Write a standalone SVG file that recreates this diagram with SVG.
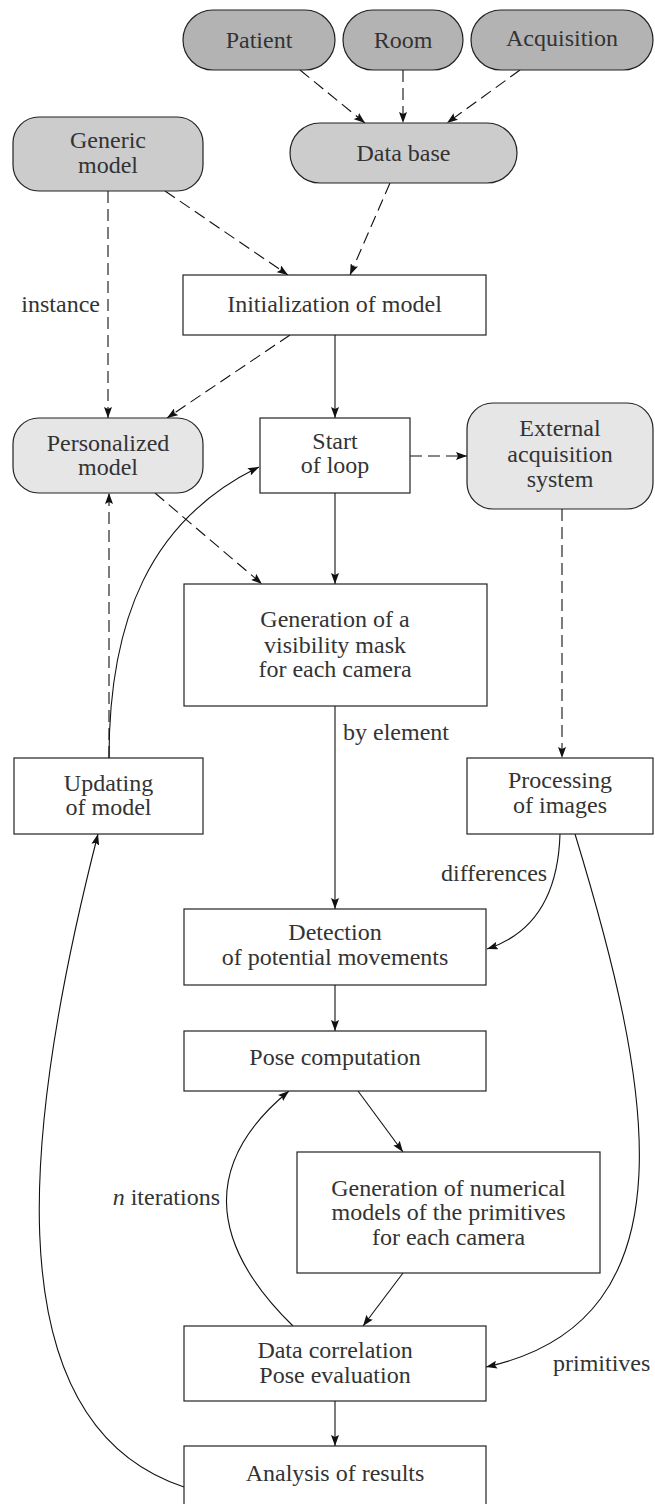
<svg xmlns="http://www.w3.org/2000/svg" width="655" height="1504" viewBox="0 0 655 1504">
<style>
  text { font-family: "Liberation Serif", "Times New Roman", serif; font-size: 24px; fill: #333; }
  .c { text-anchor: middle; }
  .box { fill: #fff; stroke: #222; stroke-width: 1.2; }
  .dark { fill: #b3b3b3; stroke: #222; stroke-width: 1.2; }
  .mid { fill: #cccccc; stroke: #222; stroke-width: 1.2; }
  .light { fill: #e6e6e6; stroke: #222; stroke-width: 1.2; }
  .e { fill: none; stroke: #111; stroke-width: 1.1; marker-end: url(#ah); }
  .d { stroke-dasharray: 12 6; }
</style>
<defs>
  <marker id="ah" markerUnits="userSpaceOnUse" markerWidth="12" markerHeight="8" refX="11" refY="4" orient="auto">
    <path d="M0,0 L11,4 L0,8 L2,4 z" fill="#111"/>
  </marker>
</defs>

<g id="connectors">
  <path class="e d" d="M300,70 L365,123"/>
  <path class="e d" d="M403,70 L403,123"/>
  <path class="e d" d="M520,70 L447,123"/>
  <path class="e d" d="M165,191 L288,275"/>
  <path class="e d" d="M390,183 L350,275"/>
  <path class="e d" d="M108,191 L108,418"/>
  <path class="e d" d="M290,335 L167,418"/>
  <path class="e d" d="M410,456 L467,456"/>
  <path class="e d" d="M155,493 L262,584"/>
  <path class="e d" d="M562,509 L562,758"/>
  <path class="e d" d="M109,758 L109,493"/>
  <path class="e" d="M335,335 L335,418"/>
  <path class="e" d="M335,493 L335,584"/>
  <path class="e" d="M109,758 C109,620 150,520 259,467"/>
  <path class="e" d="M335,706 L335,909"/>
  <path class="e" d="M560,834 C558,900 530,935 487,949"/>
  <path class="e" d="M575,834 C650,1080 700,1320 486,1367"/>
  <path class="e" d="M335,985 L335,1031"/>
  <path class="e" d="M358,1091 L403,1152"/>
  <path class="e" d="M403,1273 L363,1326"/>
  <path class="e" d="M293,1326 C205,1240 205,1160 289,1091"/>
  <path class="e" d="M335,1401 L335,1446"/>
  <path class="e" d="M184,1487 C-18,1420 30,1100 98,834"/>
  <text x="100" y="312" text-anchor="end">instance</text>
  <text x="343" y="740">by element</text>
  <text x="441" y="881">differences</text>
  <text x="220" y="1205" text-anchor="end"><tspan font-style="italic">n</tspan> iterations</text>
  <text x="553" y="1371">primitives</text>
</g>

<g id="patient"><rect class="dark" x="183" y="10" width="152" height="60" rx="30"/><text class="c" x="259" y="48">Patient</text></g>
<g id="room"><rect class="dark" x="343" y="10" width="120" height="60" rx="30"/><text class="c" x="403" y="48">Room</text></g>
<g id="acquisition"><rect class="dark" x="471" y="10" width="182" height="60" rx="30"/><text class="c" x="562" y="46">Acquisition</text></g>
<g id="database"><rect class="mid" x="290" y="123" width="227" height="60" rx="30"/><text class="c" x="403.5" y="161">Data base</text></g>
<g id="generic"><rect class="mid" x="13" y="117" width="190" height="74" rx="26"/><text class="c" x="108" y="148">Generic</text><text class="c" x="108" y="173">model</text></g>
<g id="init"><rect class="box" x="183" y="275" width="303" height="60"/><text class="c" x="334.5" y="312">Initialization of model</text></g>
<g id="personalized"><rect class="light" x="13" y="418" width="190" height="75" rx="26"/><text class="c" x="108" y="451">Personalized</text><text class="c" x="108" y="475">model</text></g>
<g id="start"><rect class="box" x="260" y="418" width="150" height="75"/><text class="c" x="335" y="449">Start</text><text class="c" x="335" y="473">of loop</text></g>
<g id="external"><rect class="light" x="467" y="403" width="186" height="106" rx="26"/><text class="c" x="560" y="436">External</text><text class="c" x="560" y="462">acquisition</text><text class="c" x="560" y="487">system</text></g>
<g id="mask"><rect class="box" x="184" y="584" width="303" height="122"/><text class="c" x="335" y="627">Generation of a</text><text class="c" x="335" y="653">visibility mask</text><text class="c" x="335" y="677">for each camera</text></g>
<g id="updating"><rect class="box" x="14" y="758" width="189" height="76"/><text class="c" x="108.5" y="791">Updating</text><text class="c" x="108.5" y="815">of model</text></g>
<g id="processing"><rect class="box" x="467" y="758" width="186" height="76"/><text class="c" x="560" y="788">Processing</text><text class="c" x="560" y="813">of images</text></g>
<g id="detection"><rect class="box" x="184" y="909" width="302" height="76"/><text class="c" x="335" y="940">Detection</text><text class="c" x="335" y="965">of potential movements</text></g>
<g id="pose"><rect class="box" x="184" y="1031" width="302" height="60"/><text class="c" x="335" y="1065">Pose computation</text></g>
<g id="numerical"><rect class="box" x="297" y="1152" width="303" height="121"/><text class="c" x="448.5" y="1196">Generation of numerical</text><text class="c" x="448.5" y="1220">models of the primitives</text><text class="c" x="448.5" y="1245">for each camera</text></g>
<g id="correlation"><rect class="box" x="184" y="1326" width="302" height="75"/><text class="c" x="335" y="1358">Data correlation</text><text class="c" x="335" y="1383">Pose evaluation</text></g>
<g id="analysis"><rect class="box" x="184" y="1446" width="302" height="70"/><text class="c" x="335" y="1481">Analysis of results</text></g>
</svg>
